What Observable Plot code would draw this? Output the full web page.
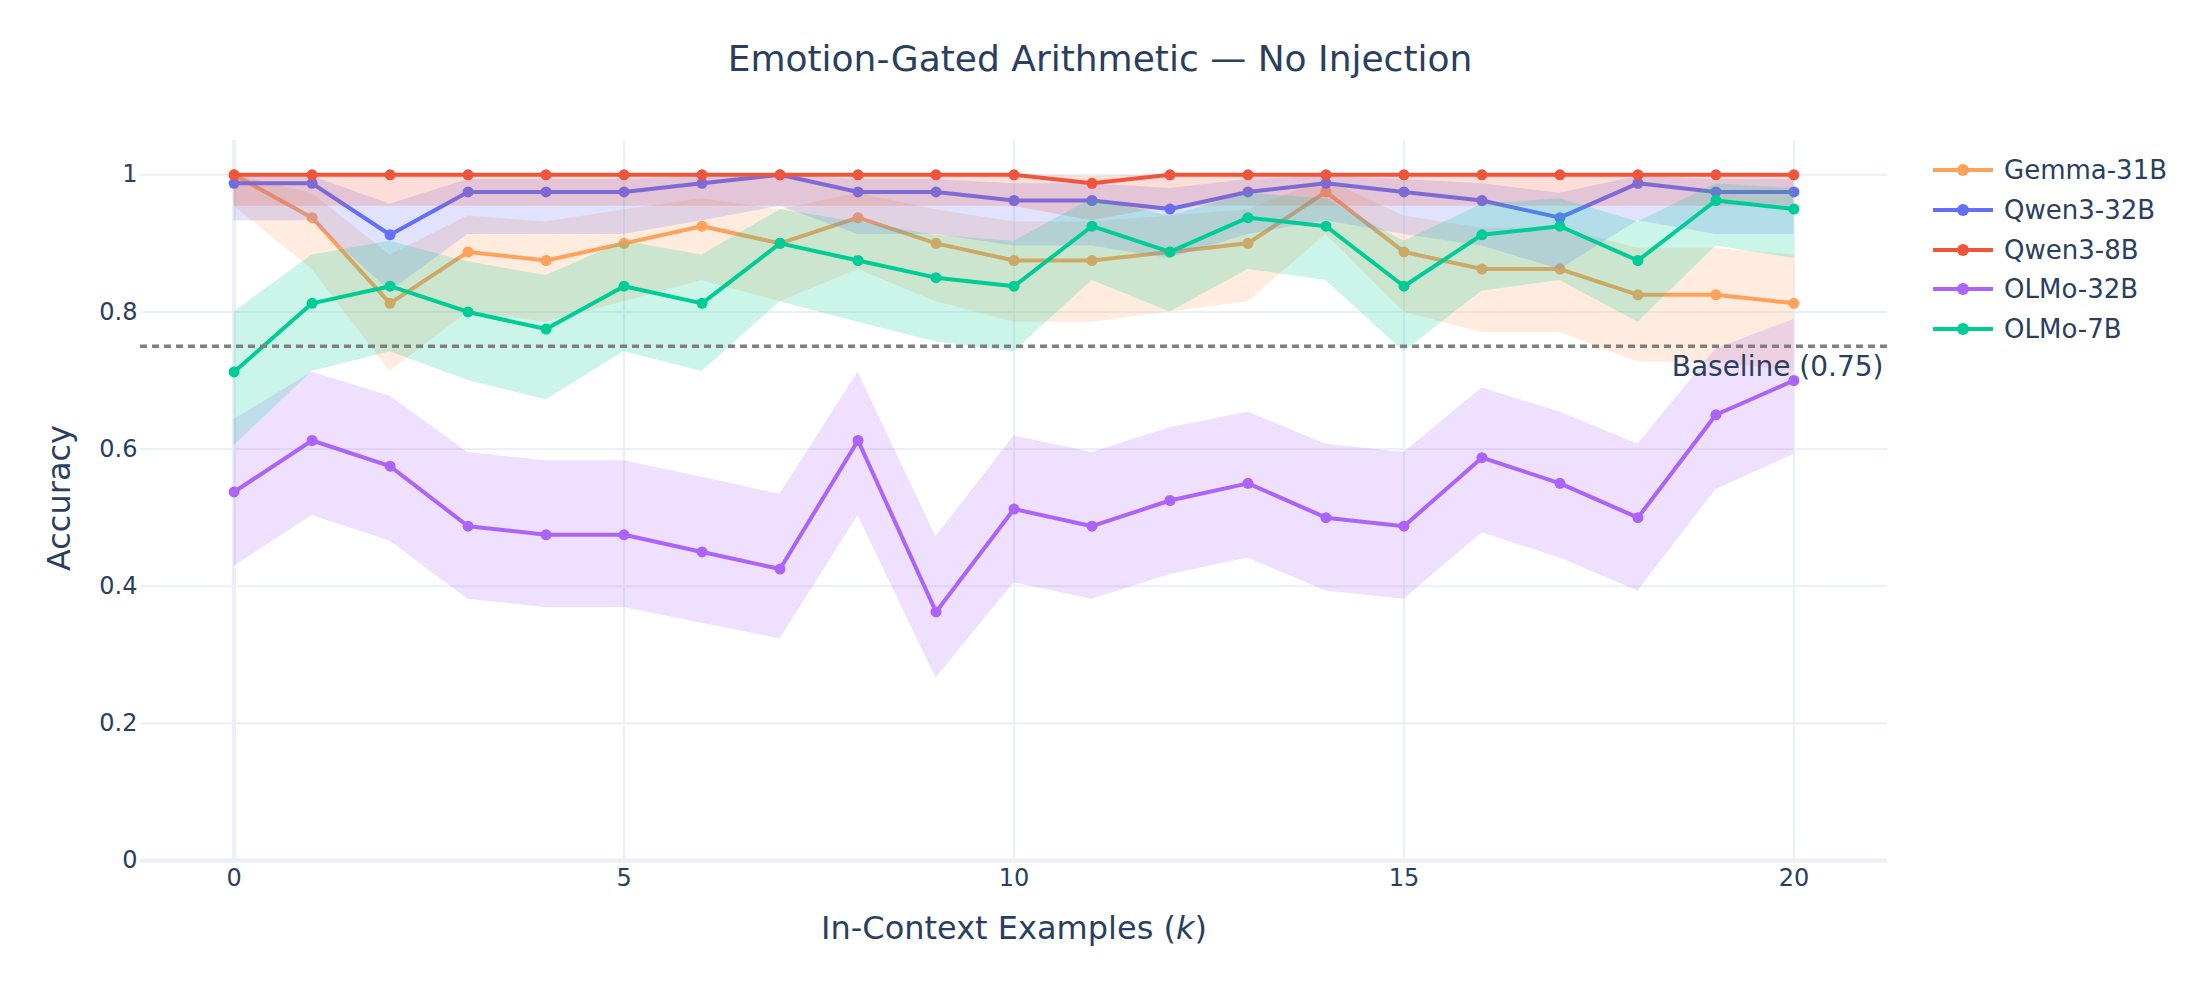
<!DOCTYPE html>
<html>
<head>
<meta charset="utf-8">
<script src="https://cdn.jsdelivr.net/npm/d3@7"></script>
<script src="https://cdn.jsdelivr.net/npm/@observablehq/plot@0.6"></script>
<style>
  html, body { margin: 0; padding: 0; background: #ffffff; }
  #wrap { position: relative; width: 2200px; height: 1000px; font-family: "DejaVu Sans", sans-serif; color: #2a3f5f; }
  #chart { position: absolute; left: 0; top: 0; }
  .title { position: absolute; left: 1100px; top: 57.5px; transform: translate(-50%, -50%); font-size: 36px; white-space: nowrap; }
  .ytitle { position: absolute; left: 59px; top: 498px; transform: translate(-50%, -50%) rotate(-90deg); font-size: 32px; white-space: nowrap; }
  .xtitle { position: absolute; left: 1014px; top: 928px; transform: translate(-50%, -50%); font-size: 32px; white-space: nowrap; }
  .legend { position: absolute; left: 1933px; top: 150px; }
  .item { position: absolute; left: 0; height: 40px; display: flex; align-items: center; white-space: nowrap; font-size: 26px; }
  .item svg { margin-right: 11px; }
</style>
</head>
<body>
<div id="wrap">
  <div id="chart"></div>
  <div class="title">Emotion-Gated Arithmetic — No Injection</div>
  <div class="ytitle">Accuracy</div>
  <div class="xtitle">In-Context Examples (<i>k</i>)</div>
  <div class="legend" id="legend"></div>
</div>
<script>
// ---- data ----
const ks = [0,1,2,3,4,5,6,7,8,9,10,11,12,13,14,15,16,17,18,19,20];
const xTicks = [0, 5, 10, 15, 20];
const yTicks = [0, 0.2, 0.4, 0.6, 0.8, 1];
const modelNames = ["Gemma-31B", "Qwen3-32B", "Qwen3-8B", "OLMo-32B", "OLMo-7B"];
const modelColors = ["#FFA15A", "#636EFA", "#EF553B", "#AB63FA", "#00CC96"];

const gemmaAcc = [1, .9375, .8125, .8875, .875, .9, .925, .9, .9375, .9, .875, .875, .8875, .9, .975, .8875, .8625, .8625, .825, .825, .8125];
const gemmaLo  = [.954, .862, .713, .800, .785, .815, .846, .815, .862, .815, .785, .785, .800, .815, .913, .800, .770, .770, .727, .727, .713];
const gemmaHi  = [1, .973, .883, .940, .931, .949, .965, .949, .973, .949, .931, .931, .940, .949, .993, .940, .922, .922, .893, .893, .883];

const qwen32Acc = [.9875, .9875, .9125, .975, .975, .975, .9875, 1, .975, .975, .9625, .9625, .95, .975, .9875, .975, .9625, .9375, .9875, .975, .975];
const qwen32Lo  = [.933, .933, .830, .913, .913, .913, .933, .954, .913, .913, .896, .896, .878, .913, .933, .913, .896, .862, .933, .913, .913];
const qwen32Hi  = [.998, .998, .957, .993, .993, .993, .998, 1, .993, .993, .987, .987, .980, .993, .998, .993, .987, .973, .998, .993, .993];

const qwen8Acc = [1, 1, 1, 1, 1, 1, 1, 1, 1, 1, 1, .9875, 1, 1, 1, 1, 1, 1, 1, 1, 1];
const qwen8Lo  = [.954, .954, .954, .954, .954, .954, .954, .954, .954, .954, .954, .933, .954, .954, .954, .954, .954, .954, .954, .954, .954];
const qwen8Hi  = [1, 1, 1, 1, 1, 1, 1, 1, 1, 1, 1, .998, 1, 1, 1, 1, 1, 1, 1, 1, 1];

const olmo32Acc = [.5375, .6125, .575, .4875, .475, .475, .45, .425, .6125, .3625, .5125, .4875, .525, .55, .5, .4875, .5875, .55, .5, .65, .7];
const olmo32Lo  = [.429, .503, .466, .381, .369, .369, .346, .323, .503, .266, .405, .381, .417, .441, .393, .381, .478, .441, .393, .541, .592];
const olmo32Hi  = [.643, .712, .677, .595, .583, .583, .559, .534, .712, .472, .619, .595, .631, .654, .607, .595, .689, .654, .607, .746, .789];

const olmo7Acc = [.7125, .8125, .8375, .8, .775, .8375, .8125, .9, .875, .85, .8375, .925, .8875, .9375, .925, .8375, .9125, .925, .875, .9625, .95];
const olmo7Lo  = [.605, .713, .742, .700, .672, .742, .713, .815, .785, .756, .742, .846, .800, .862, .846, .742, .830, .846, .785, .896, .878];
const olmo7Hi  = [.800, .883, .903, .873, .853, .903, .883, .949, .931, .912, .903, .965, .940, .973, .965, .903, .957, .965, .931, .987, .980];

const baselineValue = 0.75;
const baselineLabel = "Baseline (0.75)";

// ---- build series ----
const seriesList = [
  {acc: gemmaAcc, lo: gemmaLo, hi: gemmaHi},
  {acc: qwen32Acc, lo: qwen32Lo, hi: qwen32Hi},
  {acc: qwen8Acc, lo: qwen8Lo, hi: qwen8Hi},
  {acc: olmo32Acc, lo: olmo32Lo, hi: olmo32Hi},
  {acc: olmo7Acc, lo: olmo7Lo, hi: olmo7Hi}
].map((s, j) => ({
  name: modelNames[j],
  color: modelColors[j],
  rows: ks.map((k, i) => ({k, v: s.acc[i], lo: s.lo[i], hi: s.hi[i]}))
}));

const gridColor = "#EBF0F8";

const seriesMarks = seriesList.flatMap(s => [
  Plot.areaY(s.rows, {x: "k", y1: "lo", y2: "hi", fill: s.color, fillOpacity: 0.2}),
  Plot.line(s.rows, {x: "k", y: "v", stroke: s.color, strokeWidth: 4}),
  Plot.dot(s.rows, {x: "k", y: "v", fill: s.color, r: 5.5, stroke: "none"})
]);

const chart = Plot.plot({
  width: 2200,
  height: 1000,
  marginLeft: 140,
  marginRight: 313,
  marginTop: 140,
  marginBottom: 140,
  style: {fontFamily: "DejaVu Sans, sans-serif", fontSize: "24px", color: "#2a3f5f", background: "transparent", overflow: "visible"},
  x: {domain: [-1.2, 21.2]},
  y: {domain: [0, 1.05]},
  marks: [
    Plot.gridX(xTicks, {stroke: gridColor, strokeOpacity: 1, strokeWidth: 2}),
    Plot.gridY(yTicks, {stroke: gridColor, strokeOpacity: 1, strokeWidth: 2}),
    Plot.ruleX([0], {stroke: gridColor, strokeWidth: 4}),
    Plot.ruleY([0], {stroke: gridColor, strokeWidth: 4}),
    ...seriesMarks,
    Plot.ruleY([baselineValue], {stroke: "#808080", strokeWidth: 3.5, strokeDasharray: "7,5"}),
    Plot.text([baselineLabel], {y: () => baselineValue, text: d => d, frameAnchor: "right", textAnchor: "end", dx: -4, dy: 21, fontSize: 28, fill: "#2a3f5f"}),
    Plot.axisX(xTicks, {tickSize: 0, tickPadding: 8, label: null, fontSize: 24, fill: "#2a3f5f"}),
    Plot.axisY(yTicks, {tickSize: 0, tickPadding: 3, label: null, fontSize: 24, fill: "#2a3f5f", tickFormat: d => d3.format("~g")(d)})
  ]
});
document.getElementById("chart").appendChild(chart);

// ---- legend ----
const legend = document.getElementById("legend");
seriesList.forEach((s, i) => {
  const item = document.createElement("div");
  item.className = "item";
  item.style.top = (i * 39.8) + "px";
  item.innerHTML = `<svg width="60" height="14" viewBox="0 0 60 14"><line x1="0" y1="7" x2="60" y2="7" stroke="${s.color}" stroke-width="4"/><circle cx="30" cy="7" r="6" fill="${s.color}"/></svg><span>${s.name}</span>`;
  legend.appendChild(item);
});
</script>
</body>
</html>
